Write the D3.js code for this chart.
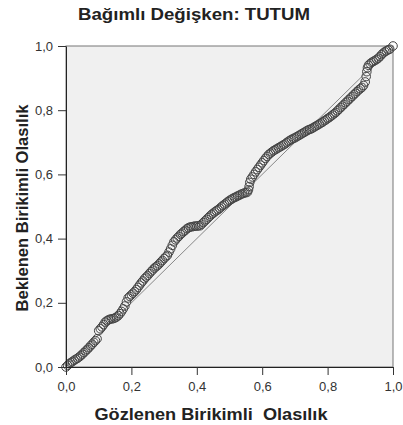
<!DOCTYPE html>
<html>
<head>
<meta charset="utf-8">
<script src="https://cdn.jsdelivr.net/npm/d3@7"></script>
<style>
    body { margin: 0; background: #fff; }
    text { font-family: "Liberation Sans", Arial, sans-serif; }
</style>
</head>
<body>
<script>
const observedProb = [
    0.000, 0.005, 0.010, 0.015, 0.020, 0.025, 0.030, 0.035, 0.040, 0.045,
    0.050, 0.055, 0.060, 0.065, 0.070, 0.075, 0.080, 0.085, 0.090, 0.095,
    0.100, 0.105, 0.110, 0.115, 0.120, 0.125, 0.130, 0.135, 0.140, 0.145,
    0.150, 0.155, 0.160, 0.165, 0.170, 0.175, 0.180, 0.185, 0.190, 0.195,
    0.200, 0.205, 0.210, 0.215, 0.220, 0.225, 0.230, 0.235, 0.240, 0.245,
    0.250, 0.255, 0.260, 0.265, 0.270, 0.275, 0.280, 0.285, 0.290, 0.295,
    0.300, 0.305, 0.310, 0.315, 0.320, 0.325, 0.330, 0.335, 0.340, 0.345,
    0.350, 0.355, 0.360, 0.365, 0.370, 0.375, 0.380, 0.385, 0.390, 0.395,
    0.400, 0.405, 0.410, 0.415, 0.420, 0.425, 0.430, 0.435, 0.440, 0.445,
    0.450, 0.455, 0.460, 0.465, 0.470, 0.475, 0.480, 0.485, 0.490, 0.495,
    0.500, 0.505, 0.510, 0.515, 0.520, 0.525, 0.530, 0.535, 0.540, 0.545,
    0.550, 0.555, 0.558, 0.560, 0.562, 0.565, 0.570, 0.575, 0.580, 0.585, 0.590, 0.595,
    0.600, 0.605, 0.610, 0.615, 0.620, 0.625, 0.630, 0.635, 0.640, 0.645,
    0.650, 0.655, 0.660, 0.665, 0.670, 0.675, 0.680, 0.685, 0.690, 0.695,
    0.700, 0.705, 0.710, 0.715, 0.720, 0.725, 0.730, 0.735, 0.740, 0.745,
    0.750, 0.755, 0.760, 0.765, 0.770, 0.775, 0.780, 0.785, 0.790, 0.795,
    0.800, 0.805, 0.810, 0.815, 0.820, 0.825, 0.830, 0.835, 0.840, 0.845,
    0.850, 0.855, 0.860, 0.865, 0.870, 0.875, 0.880, 0.885, 0.890, 0.895,
    0.900, 0.905, 0.910, 0.915, 0.918, 0.920, 0.922, 0.925, 0.930, 0.935, 0.940, 0.945,
    0.950, 0.955, 0.960, 0.965, 0.970, 0.975, 0.980, 0.985, 0.990, 1.000
];
const expectedProb = [
    0.000, 0.005, 0.010, 0.014, 0.017, 0.021, 0.024, 0.027, 0.031, 0.035,
    0.040, 0.045, 0.050, 0.055, 0.060, 0.066, 0.071, 0.077, 0.082, 0.088,
    0.113, 0.119, 0.125, 0.132, 0.140, 0.144, 0.147, 0.149, 0.150, 0.151,
    0.153, 0.156, 0.160, 0.166, 0.173, 0.181, 0.190, 0.203, 0.215, 0.220,
    0.225, 0.230, 0.235, 0.241, 0.248, 0.255, 0.262, 0.268, 0.275, 0.280,
    0.285, 0.291, 0.297, 0.302, 0.308, 0.312, 0.316, 0.321, 0.327, 0.332,
    0.338, 0.343, 0.348, 0.358, 0.368, 0.379, 0.390, 0.396, 0.402, 0.407,
    0.413, 0.417, 0.422, 0.426, 0.431, 0.434, 0.436, 0.437, 0.438, 0.439,
    0.439, 0.440, 0.440, 0.445, 0.450, 0.455, 0.460, 0.465, 0.470, 0.475,
    0.479, 0.483, 0.487, 0.490, 0.494, 0.499, 0.503, 0.507, 0.511, 0.515,
    0.519, 0.522, 0.525, 0.528, 0.530, 0.533, 0.535, 0.538, 0.540, 0.542,
    0.543, 0.545, 0.552, 0.562, 0.575, 0.585, 0.592, 0.600, 0.608, 0.615, 0.622, 0.629,
    0.636, 0.643, 0.650, 0.656, 0.662, 0.666, 0.670, 0.674, 0.677, 0.680,
    0.683, 0.686, 0.689, 0.692, 0.695, 0.699, 0.703, 0.706, 0.709, 0.712,
    0.714, 0.717, 0.720, 0.723, 0.726, 0.729, 0.732, 0.735, 0.738, 0.740,
    0.742, 0.745, 0.748, 0.751, 0.754, 0.757, 0.760, 0.763, 0.767, 0.770,
    0.774, 0.777, 0.781, 0.785, 0.789, 0.793, 0.798, 0.803, 0.808, 0.813,
    0.818, 0.823, 0.828, 0.833, 0.838, 0.843, 0.848, 0.853, 0.858, 0.863,
    0.867, 0.871, 0.877, 0.888, 0.905, 0.920, 0.932, 0.940, 0.945, 0.949, 0.952, 0.955,
    0.958, 0.962, 0.967, 0.973, 0.978, 0.982, 0.985, 0.988, 0.990, 1.000
];
const tickValues = [0, 0.2, 0.4, 0.6, 0.8, 1.0];
const chartTitle = "Bağımlı Değişken: TUTUM";
const xTitle = "Gözlenen Birikimli  Olasılık";
const yTitle = "Beklenen Birikimli Olasılık";

const width = 403;
const height = 425;
const margin = { top: 46, right: 10, bottom: 58, left: 66 };
const formatTick = d => d3.format(".1f")(d).replace(".", ",");

const svg = d3.select("body")
    .append("svg")
    .attr("width", width)
    .attr("height", height);

const x = d3.scaleLinear()
    .domain([0, 1])
    .range([margin.left, width - margin.right]);

const y = d3.scaleLinear()
    .domain([0, 1])
    .range([height - margin.bottom, margin.top]);

// plot background and frame
svg.append("rect")
    .attr("x", x(0))
    .attr("y", y(1))
    .attr("width", x(1) - x(0))
    .attr("height", y(0) - y(1))
    .attr("fill", "#f0f0f0")
    .attr("stroke", "#777")
    .attr("stroke-width", 1);

// reference diagonal
svg.append("line")
    .attr("x1", x(0))
    .attr("y1", y(0))
    .attr("x2", x(1))
    .attr("y2", y(1))
    .attr("stroke", "#888")
    .attr("stroke-width", 1);

// points
svg.append("g")
    .selectAll("circle")
    .data(observedProb)
    .enter()
    .append("circle")
    .attr("cx", d => x(d))
    .attr("cy", (d, i) => y(expectedProb[i]))
    .attr("r", 4.3)
    .attr("fill", "none")
    .attr("stroke", "#444")
    .attr("stroke-width", 1);

const xAxis = svg.append("g")
    .attr("transform", `translate(0,${y(0)})`)
    .call(d3.axisBottom(x).tickValues(tickValues).tickFormat(formatTick).tickSize(8).tickSizeOuter(0));

const yAxis = svg.append("g")
    .attr("transform", `translate(${x(0)},0)`)
    .call(d3.axisLeft(y).tickValues(tickValues).tickFormat(formatTick).tickSize(8).tickSizeOuter(0));

[xAxis, yAxis].forEach(g => {
    g.select(".domain").attr("stroke", "#222");
    g.selectAll(".tick line").attr("stroke", "#333");
    g.selectAll(".tick text")
        .attr("fill", "#333")
        .style("font-size", "13px")
        .style("font-family", "'Liberation Sans', Arial, sans-serif");
});
xAxis.selectAll(".tick text").attr("y", 15);
yAxis.selectAll(".tick text").attr("x", -13);

svg.append("text")
    .attr("x", 194)
    .attr("y", 20)
    .attr("text-anchor", "middle")
    .attr("textLength", 232)
    .attr("lengthAdjust", "spacingAndGlyphs")
    .style("font-size", "17px")
    .style("font-weight", "bold")
    .attr("fill", "#222")
    .text(chartTitle);

svg.append("text")
    .attr("x", 211)
    .attr("y", 420)
    .attr("text-anchor", "middle")
    .attr("textLength", 233)
    .attr("lengthAdjust", "spacingAndGlyphs")
    .style("font-size", "17px")
    .style("font-weight", "bold")
    .style("white-space", "pre")
    .attr("fill", "#222")
    .text(xTitle);

svg.append("text")
    .attr("transform", `translate(28,208) rotate(-90)`)
    .attr("text-anchor", "middle")
    .attr("textLength", 207)
    .attr("lengthAdjust", "spacingAndGlyphs")
    .style("font-size", "17px")
    .style("font-weight", "bold")
    .attr("fill", "#222")
    .text(yTitle);
</script>
</body>
</html>
